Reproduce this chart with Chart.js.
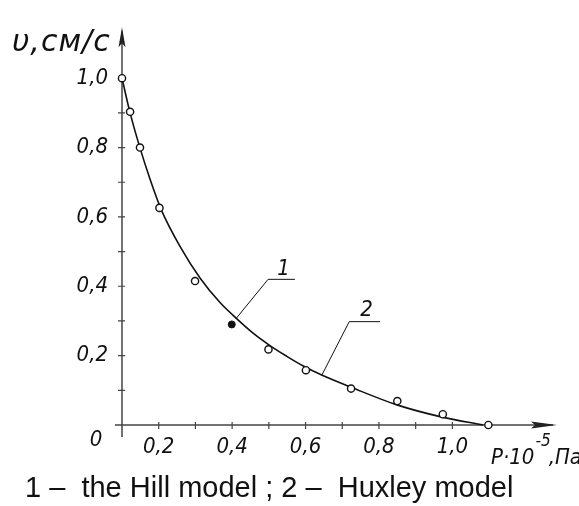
<!DOCTYPE html>
<html>
<head>
<meta charset="utf-8">
<script src="https://cdn.jsdelivr.net/npm/chart.js@4.4.1/dist/chart.umd.min.js"></script>
<style>
  html, body { margin: 0; padding: 0; background: #fff; }
  #wrap { width: 579px; height: 506px; }
</style>
</head>
<body>
<div id="wrap"><canvas id="chart" width="579" height="506"></canvas></div>
<script>
// --- DATA ---
const curveP = [0.100, 0.122, 0.149, 0.176, 0.208, 0.258, 0.313, 0.367, 0.413, 0.458, 0.503, 0.549, 0.594, 0.644, 0.726, 0.849, 0.975, 1.084];
const curveV = [1.000, 0.900, 0.799, 0.710, 0.618, 0.515, 0.423, 0.353, 0.306, 0.264, 0.229, 0.198, 0.170, 0.144, 0.108, 0.058, 0.022, 0.000];

const openP = [0.100, 0.122, 0.149, 0.202, 0.299, 0.499, 0.601, 0.724, 0.850, 0.974, 1.098];
const openV = [1.000, 0.903, 0.800, 0.626, 0.415, 0.218, 0.158, 0.105, 0.069, 0.031, 0.000];

const filledP = [0.399];
const filledV = [0.290];

const xTickValues = [0.2, 0.3, 0.4, 0.5, 0.6, 0.7, 0.8, 0.9, 1.0, 1.1];
const xTickLabels = ['0,2', '', '0,4', '', '0,6', '', '0,8', '', '1,0', ''];
const yTickValues = [0.1, 0.2, 0.3, 0.4, 0.5, 0.6, 0.7, 0.8, 0.9, 1.0];
const yTickLabels = ['', '0,2', '', '0,4', '', '0,6', '', '0,8', '', '1,0'];

// leader callouts: [curve point, elbow, end of shelf, label position], in data units
const callouts = [
  { text: '1', pts: [[0.410, 0.306], [0.498, 0.420], [0.571, 0.420]], label: [0.540, 0.448] },
  { text: '2', pts: [[0.644, 0.143], [0.719, 0.298], [0.803, 0.298]], label: [0.766, 0.331] }
];

const caption = '1 \u2013  the Hill model ; 2 \u2013  Huxley model';

const X_MIN = 0.1, X_MAX = 1.285, Y_MIN = 0, Y_MAX = 1.147;
const FAM = "'Liberation Sans Narrow', 'DejaVu Sans Condensed', 'DejaVu Sans', sans-serif";
const GOST = "italic 22px " + FAM;
const AXIS = '#444';

const toXY = (xs, ys) => xs.map((x, i) => ({ x, y: ys[i] }));

// --- DECORATION: axes with arrows, crossing ticks, titles, callouts ---
const decor = {
  id: 'decor',
  beforeDatasetsDraw(chart) {
    const { ctx, scales: { x, y } } = chart;
    const ox = x.getPixelForValue(X_MIN);
    const oy = y.getPixelForValue(Y_MIN);
    const xr = x.getPixelForValue(X_MAX);
    const yt = y.getPixelForValue(Y_MAX);

    ctx.save();
    ctx.strokeStyle = AXIS;
    ctx.fillStyle = '#222';
    ctx.lineWidth = 1.5;
    ctx.beginPath();
    ctx.moveTo(ox - 7, oy); ctx.lineTo(xr - 4, oy);
    ctx.moveTo(ox, oy + 12); ctx.lineTo(ox, yt + 4);
    ctx.stroke();

    // ticks crossing the axes
    ctx.lineWidth = 1.2;
    ctx.beginPath();
    xTickValues.forEach(v => {
      const px = x.getPixelForValue(v);
      ctx.moveTo(px, oy - 3); ctx.lineTo(px, oy + 4);
    });
    yTickValues.forEach(v => {
      const py = y.getPixelForValue(v);
      ctx.moveTo(ox - 4, py); ctx.lineTo(ox + 3, py);
    });
    ctx.stroke();

    // arrow heads
    ctx.beginPath();
    ctx.moveTo(xr, oy); ctx.lineTo(xr - 26, oy - 3.5); ctx.lineTo(xr - 22, oy); ctx.lineTo(xr - 26, oy + 3.5);
    ctx.closePath(); ctx.fill();
    ctx.beginPath();
    ctx.moveTo(ox, yt); ctx.lineTo(ox - 3.5, yt + 20); ctx.lineTo(ox, yt + 16); ctx.lineTo(ox + 3.5, yt + 20);
    ctx.closePath(); ctx.fill();
    ctx.restore();
  },
  afterDatasetsDraw(chart) {
    const { ctx, scales: { x, y } } = chart;
    const ox = x.getPixelForValue(X_MIN);
    const oy = y.getPixelForValue(Y_MIN);

    ctx.save();
    ctx.fillStyle = '#111';
    ctx.strokeStyle = '#111';

    // origin label
    ctx.font = GOST;
    ctx.textAlign = 'center';
    ctx.textBaseline = 'middle';
    ctx.fillText('0', ox - 26, oy + 15);

    // callouts
    ctx.lineWidth = 1;
    callouts.forEach(c => {
      ctx.beginPath();
      c.pts.forEach(([vx, vy], i) => {
        const px = x.getPixelForValue(vx), py = y.getPixelForValue(vy);
        i ? ctx.lineTo(px, py) : ctx.moveTo(px, py);
      });
      ctx.stroke();
      ctx.fillText(c.text, x.getPixelForValue(c.label[0]), y.getPixelForValue(c.label[1]));
    });

    // x axis title: P·10^-5, Па
    ctx.textAlign = 'left';
    ctx.textBaseline = 'alphabetic';
    ctx.font = "italic 22px " + FAM;
    let tx = 491;
    ctx.fillText('P\u00b710', tx, 464);
    tx += ctx.measureText('P\u00b710').width + 1;
    ctx.font = "italic 17px " + FAM;
    ctx.fillText('-5', tx, 446);
    tx += ctx.measureText('-5').width - 2;
    ctx.font = "italic 22px " + FAM;
    ctx.fillText(',\u041f\u0430', tx, 464);

    // y axis title
    ctx.font = "italic 30px 'DejaVu Sans', sans-serif";
    ctx.letterSpacing = '1px';
    ctx.fillText('\u03c5,\u0441\u043c/\u0441', 12, 51);
    ctx.letterSpacing = '0px';

    // caption
    ctx.font = "29px 'Liberation Sans', Arial, sans-serif";
    ctx.fillText(caption, 25, 497);
    ctx.restore();
  }
};

const ctx = document.getElementById('chart').getContext('2d');
new Chart(ctx, {
  type: 'scatter',
  data: {
    datasets: [
      {
        type: 'line',
        data: toXY(curveP, curveV),
        borderColor: '#111',
        borderWidth: 1.6,
        pointRadius: 0,
        cubicInterpolationMode: 'monotone',
        fill: false,
        clip: false,
        order: 2
      },
      {
        data: toXY(openP, openV),
        pointRadius: 3.6,
        pointBorderWidth: 1.4,
        borderColor: '#111',
        backgroundColor: '#fff',
        clip: false,
        order: 1
      },
      {
        data: toXY(filledP, filledV),
        pointRadius: 3.5,
        pointBorderWidth: 1,
        borderColor: '#111',
        backgroundColor: '#111',
        clip: false,
        order: 1
      }
    ]
  },
  options: {
    responsive: false,
    animation: false,
    layout: { padding: { top: 13, right: 22, left: 0, bottom: 0 } },
    plugins: { legend: { display: false }, tooltip: { enabled: false } },
    scales: {
      x: {
        type: 'linear',
        min: X_MIN, max: X_MAX,
        afterBuildTicks: s => { s.ticks = xTickValues.map(v => ({ value: v })); },
        afterFit: s => { s.height = 81; },
        grid: { display: false, drawTicks: false },
        border: { display: false },
        ticks: {
          autoSkip: false, maxRotation: 0, padding: 9, color: '#111',
          font: { family: FAM, size: 22, style: 'italic' },
          callback: (v, i) => xTickLabels[i]
        }
      },
      y: {
        type: 'linear',
        min: Y_MIN, max: Y_MAX,
        afterBuildTicks: s => { s.ticks = yTickValues.map(v => ({ value: v })); },
        afterFit: s => { s.width = 122; },
        grid: { display: false, drawTicks: false },
        border: { display: false },
        ticks: {
          autoSkip: false, padding: 14, color: '#111',
          font: { family: FAM, size: 22, style: 'italic' },
          callback: (v, i) => yTickLabels[i]
        }
      }
    }
  },
  plugins: [decor]
});
</script>
</body>
</html>
